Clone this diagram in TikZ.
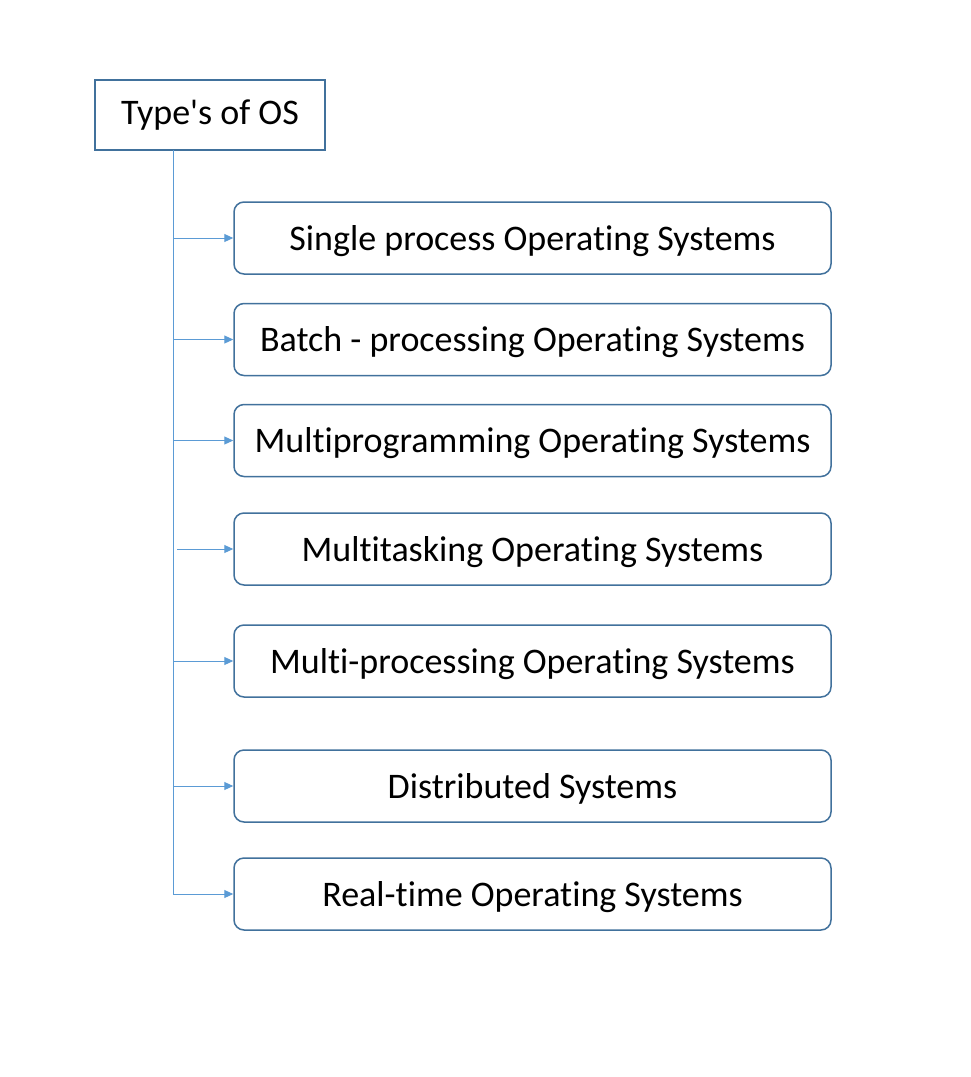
\documentclass[tikz,border=0pt]{standalone}
\usepackage{fontspec}
\setmainfont[Ligatures={NoCommon}]{Carlito}
\usetikzlibrary{arrows.meta}
\definecolor{boxline}{HTML}{41719C}
\definecolor{conn}{HTML}{5B9BD5}
\tikzset{
  osbox/.style={draw=boxline, line width=1.5pt, rounded corners=10pt, minimum width=597pt, minimum height=72pt, inner sep=0pt, text height=28pt, text depth=4pt, font=\fontsize{36}{40}\selectfont},
  topbox/.style={draw=boxline, line width=1.5pt, minimum width=230pt, minimum height=70pt, inner sep=0pt, text height=26pt, text depth=8pt, font=\fontsize{36}{40}\selectfont},
  link/.style={draw=conn, line width=1pt, -{Triangle[length=9pt,width=8pt]}}
}
\begin{document}
\begin{tikzpicture}[x=1pt,y=-1pt]
\useasboundingbox[fill=white] (0,0) rectangle (971,1077);
\node[topbox] (top) at (210,115) {Type\textquotesingle s of OS};
\node[osbox] (b1) at (532.5,238) {Single process Operating Systems};
\node[osbox] (b2) at (532.5,339.5) {Batch - processing Operating Systems};
\node[osbox] (b3) at (532.5,440.5) {Multiprogramming Operating Systems};
\node[osbox] (b4) at (532.5,549) {Multitasking Operating Systems};
\node[osbox] (b5) at (532.5,661) {Multi-processing Operating Systems};
\node[osbox] (b6) at (532.5,786) {Distributed Systems};
\node[osbox] (b7) at (532.5,894) {Real-time Operating Systems};
\coordinate (trunk) at (173,150);
\draw[link] (trunk) |- (b7.west);
\foreach \b in {b1,b2,b3,b5,b6}{
  \draw[link] ([xshift=1pt]trunk |- \b.west) -- (\b.west);
}
\draw[link] ([xshift=4pt]trunk |- b4.west) -- (b4.west);
\end{tikzpicture}
\end{document}
